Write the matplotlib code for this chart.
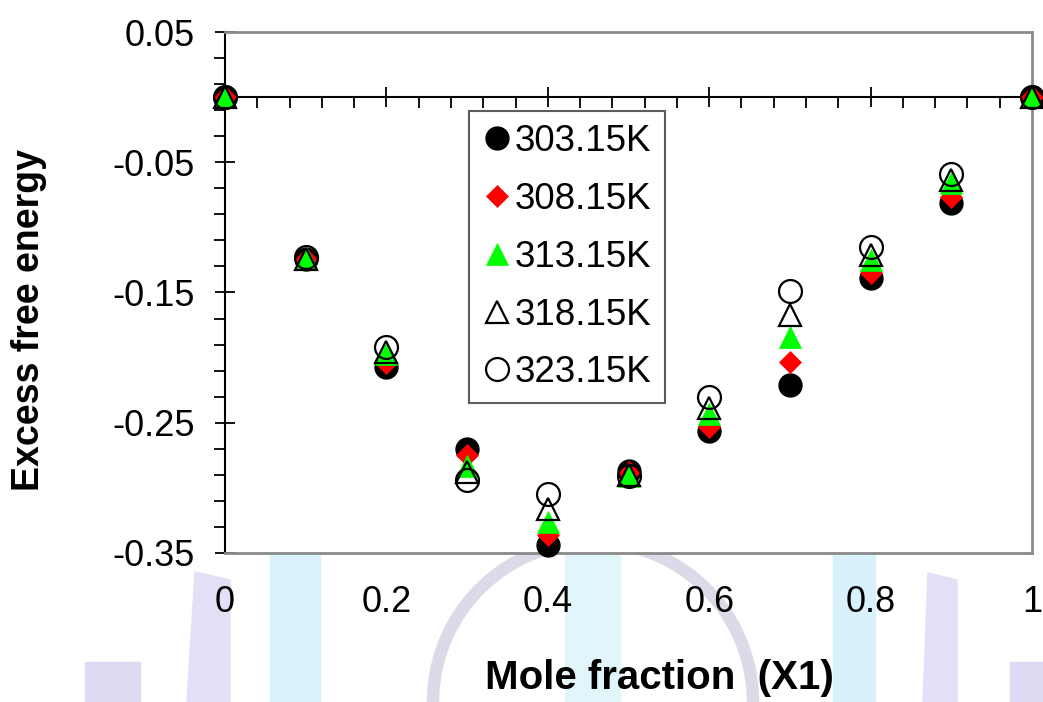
import numpy as np
import matplotlib
matplotlib.use('Agg')
import matplotlib.pyplot as plt
from matplotlib.ticker import FixedLocator, FuncFormatter
from matplotlib.patches import Polygon, Rectangle, Arc

plt.rcParams['font.family'] = ['Liberation Sans', 'DejaVu Sans']
plt.rcParams['axes.unicode_minus'] = False

# mole fraction of component 1
x1 = [0.0, 0.1, 0.2, 0.3, 0.4, 0.5, 0.6, 0.7, 0.8, 0.9, 1.0]

# excess free energy at each temperature
ge_303 = [0.0, -0.124, -0.207, -0.270, -0.344, -0.287, -0.256, -0.221, -0.139, -0.081, 0.0]
ge_308 = [0.0, -0.124, -0.204, -0.275, -0.336, -0.288, -0.253, -0.203, -0.135, -0.077, 0.0]
ge_313 = [0.0, -0.123, -0.197, -0.283, -0.326, -0.291, -0.243, -0.184, -0.125, -0.066, 0.0]
ge_318 = [0.0, -0.124, -0.196, -0.288, -0.316, -0.290, -0.239, -0.167, -0.121, -0.064, 0.0]
ge_323 = [0.0, -0.123, -0.192, -0.294, -0.305, -0.291, -0.230, -0.149, -0.115, -0.059, 0.0]

temps = ['303.15K', '308.15K', '313.15K', '318.15K', '323.15K']

fig = plt.figure(figsize=(10.43, 7.02), dpi=100)

# faint background logo shapes (pixel coords, origin bottom left)
wm = [
    Rectangle((85, 0), 55, 40, color='#dddbf3'),
    Polygon([(187, 0), (230, 0), (230, 122), (195, 130)], closed=True, color='#e2e0f7'),
    Rectangle((270, 0), 50, 147, color='#d9f2fb'),
    Rectangle((565, 0), 55, 147, color='#e0f6fb'),
    Rectangle((833, 0), 42, 147, color='#d8f1fa'),
    Polygon([(923, 0), (957, 0), (957, 122), (928, 129)], closed=True, color='#e2e0f6'),
    Rectangle((1010, 0), 40, 40, color='#dddbf3'),
    Arc((593, 0), 320, 320, theta1=0, theta2=180, lw=9, color='#dcdae8'),
]
for p in wm:
    p.set_transform(None)
    p.set_figure(fig)
    p.set_zorder(-5)
    fig.patches.append(p)

ax = fig.add_axes([225 / 1043, 1 - 553 / 702, (1032 - 225) / 1043, (553 - 32) / 702])
ax.set_facecolor('white')

ax.plot(x1, ge_303, 'o', color='black', ms=16.5, mec='black', mew=1.0, clip_on=False, zorder=5, label=temps[0])
ax.plot(x1, ge_308, 'D', color='red', ms=11.5, mec='red', mew=0.5, clip_on=False, zorder=5, label=temps[1])
ax.plot(x1, ge_313, '^', color='#00ff00', ms=16, mec='#00ff00', mew=0.5, clip_on=False, zorder=5, label=temps[2])
ax.plot(x1, ge_318, '^', mfc='none', mec='black', ms=16, mew=1.6, clip_on=False, zorder=5, label=temps[3])
ax.plot(x1, ge_323, 'o', mfc='none', mec='black', ms=16.5, mew=1.6, clip_on=False, zorder=5, label=temps[4])

ax.set_xlim(0, 1)
ax.set_ylim(-0.35, 0.05)

for side in ['top', 'right', 'bottom']:
    ax.spines[side].set_color('#8a8a8a')
    ax.spines[side].set_linewidth(2)
ax.spines['left'].set_color('black')
ax.spines['left'].set_linewidth(1.5)

# y ticks: majors cross the spine, minors point outward
ax.yaxis.set_major_locator(FixedLocator(np.arange(-0.35, 0.051, 0.1)))
ax.yaxis.set_minor_locator(FixedLocator(np.arange(-0.35, 0.051, 0.02)))
ax.yaxis.set_major_formatter(FuncFormatter(lambda v, p: '%.2f' % v))
ax.tick_params(axis='y', which='major', direction='inout', length=14, width=1.3, labelsize=26, pad=15)
ax.tick_params(axis='y', which='minor', direction='out', length=8, width=1.3)

# x labels sit at the bottom without tick marks
ax.xaxis.set_major_locator(FixedLocator(np.arange(0, 1.01, 0.2)))
ax.xaxis.set_major_formatter(FuncFormatter(lambda v, p: '%g' % round(v, 2)))
ax.tick_params(axis='x', which='both', length=0, labelsize=26, pad=23)

# x axis line drawn through y = 0
xax = ax.secondary_xaxis(0.875)
xax.spines['top'].set_color('black')
xax.spines['top'].set_linewidth(1.5)
xax.xaxis.set_major_locator(FixedLocator(np.arange(0, 1.01, 0.2)))
xax.xaxis.set_minor_locator(FixedLocator(np.arange(0, 1.01, 0.04)))
xax.tick_params(axis='x', which='major', direction='inout', length=14, width=1.3, labelbottom=False, labeltop=False)
xax.tick_params(axis='x', which='minor', direction='in', length=8, width=1.3)

leg = ax.legend(loc='upper left', bbox_to_anchor=(0.3024, 0.848), borderaxespad=0,
                fontsize=26.5, frameon=True, fancybox=False, handlelength=0.8,
                handletextpad=0.1, labelspacing=0.62, borderpad=0.35)
leg.get_frame().set_edgecolor('#333333')
leg.get_frame().set_linewidth(1.5)
leg.set_zorder(10)

fig.text(29 / 1043, 1 - 320 / 702, 'Excess free energy', rotation=90, fontsize=27,
         fontweight='bold', ha='center', va='center')
fig.text(659 / 1043, 1 - 678 / 702, 'Mole fraction  (X1)', fontsize=29,
         fontweight='bold', ha='center', va='center')

fig.savefig('out.png', dpi=100)
